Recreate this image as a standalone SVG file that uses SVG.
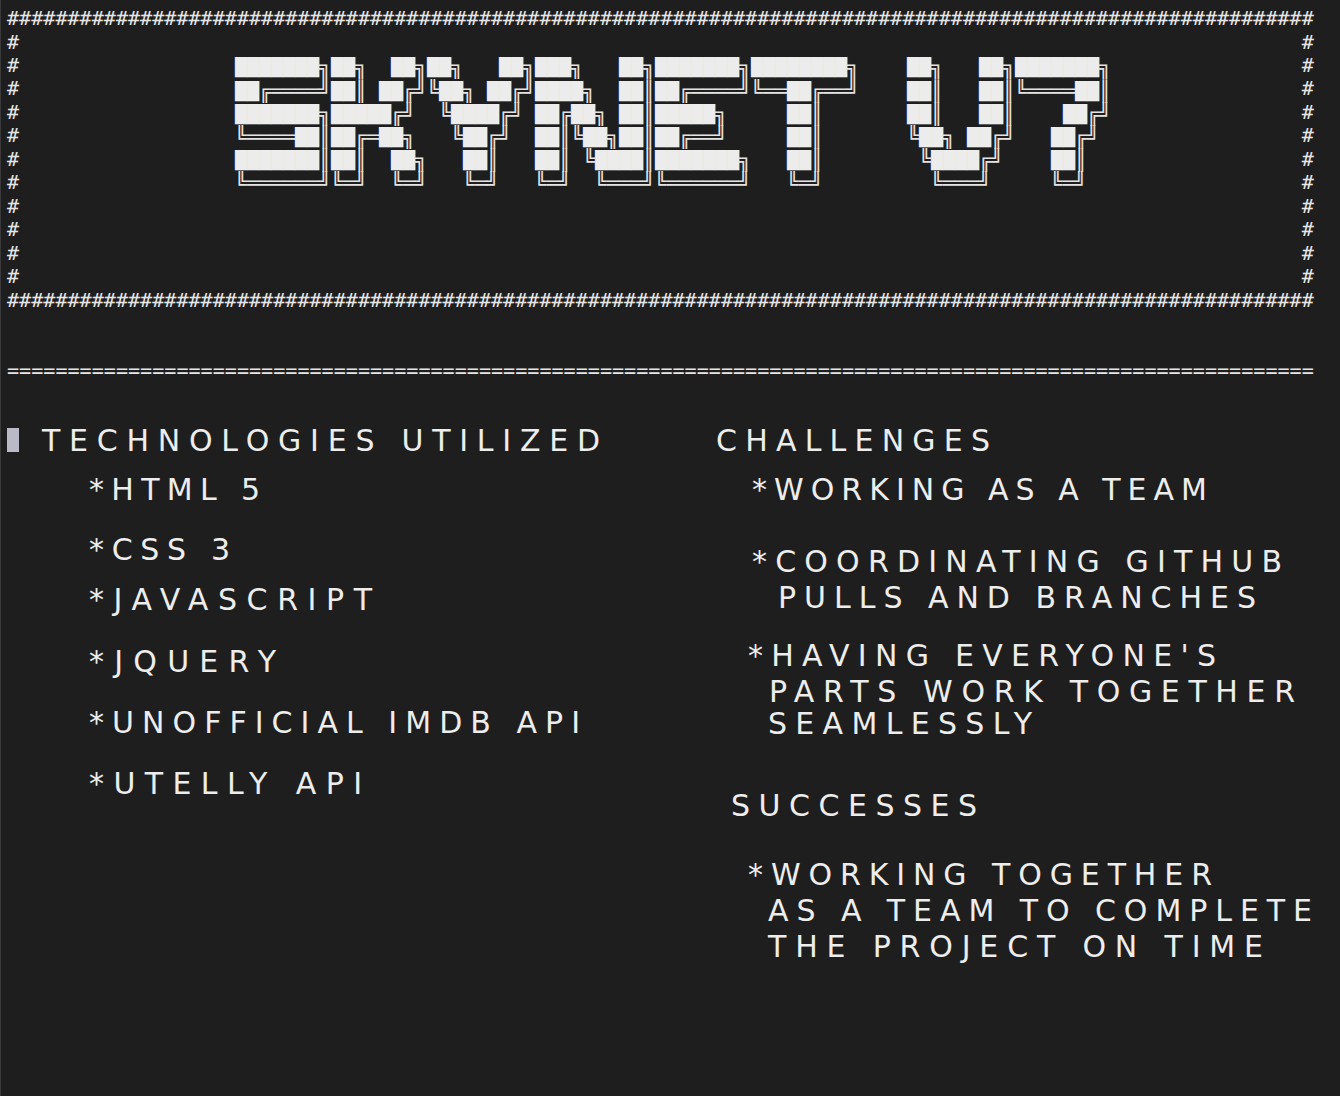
<svg xmlns="http://www.w3.org/2000/svg" width="1340" height="1096" viewBox="0 0 1340 1096">
<style>
.bg{fill:#1e1e1e}
.h{font-family:"DejaVu Sans Mono","Liberation Mono",monospace;font-size:20.1px;fill:#e6e6e6;white-space:pre}
.tt{font-family:"DejaVu Sans Mono",monospace;font-size:19.93px;fill:#e4e4e4;white-space:pre}
.k{font-size:17.18px;fill:#ececec}
.b{font-family:"DejaVu Sans","Liberation Sans",sans-serif;font-size:30px;fill:#ededed;white-space:pre}
</style>
<rect class="bg" x="0" y="0" width="1340" height="1096"/>
<rect x="0" y="0" width="1" height="1096" fill="#3a3a3a"/>

<g id="frame">
<text class="h" x="7" y="25" textLength="1306.8" lengthAdjust="spacing">############################################################################################################</text>
<text class="h" x="7" y="48.5">#</text><text class="h" x="1301.7" y="48.5">#</text>
<text class="h" x="7" y="72">#</text><text class="h" x="1301.7" y="72">#</text>
<text class="h" x="7" y="95.4">#</text><text class="h" x="1301.7" y="95.4">#</text>
<text class="h" x="7" y="118.9">#</text><text class="h" x="1301.7" y="118.9">#</text>
<text class="h" x="7" y="142.3">#</text><text class="h" x="1301.7" y="142.3">#</text>
<text class="h" x="7" y="165.8">#</text><text class="h" x="1301.7" y="165.8">#</text>
<text class="h" x="7" y="189.2">#</text><text class="h" x="1301.7" y="189.2">#</text>
<text class="h" x="7" y="212.7">#</text><text class="h" x="1301.7" y="212.7">#</text>
<text class="h" x="7" y="236.1">#</text><text class="h" x="1301.7" y="236.1">#</text>
<text class="h" x="7" y="259.6">#</text><text class="h" x="1301.7" y="259.6">#</text>
<text class="h" x="7" y="283">#</text><text class="h" x="1301.7" y="283">#</text>
<text class="h" x="7" y="306.5" textLength="1306.8" lengthAdjust="spacing">############################################################################################################</text>
</g>

<g id="title">
<text id="title-row0" class="tt" xml:space="preserve"><tspan class="k" x="235" y="73.44" textLength="84" lengthAdjust="spacingAndGlyphs">███████</tspan><tspan x="319" y="74.4">╗</tspan><tspan class="k" x="331" y="73.44" textLength="24" lengthAdjust="spacingAndGlyphs">██</tspan><tspan x="355" y="74.4">╗</tspan><tspan class="k" x="391" y="73.44" textLength="24" lengthAdjust="spacingAndGlyphs">██</tspan><tspan x="415" y="74.4">╗</tspan><tspan class="k" x="427" y="73.44" textLength="24" lengthAdjust="spacingAndGlyphs">██</tspan><tspan x="451" y="74.4">╗</tspan><tspan class="k" x="499" y="73.44" textLength="24" lengthAdjust="spacingAndGlyphs">██</tspan><tspan x="523" y="74.4">╗</tspan><tspan class="k" x="535" y="73.44" textLength="36" lengthAdjust="spacingAndGlyphs">███</tspan><tspan x="571" y="74.4">╗</tspan><tspan class="k" x="619" y="73.44" textLength="24" lengthAdjust="spacingAndGlyphs">██</tspan><tspan x="643" y="74.4">╗</tspan><tspan class="k" x="655" y="73.44" textLength="84" lengthAdjust="spacingAndGlyphs">███████</tspan><tspan x="739" y="74.4">╗</tspan><tspan class="k" x="751" y="73.44" textLength="96" lengthAdjust="spacingAndGlyphs">████████</tspan><tspan x="847" y="74.4">╗</tspan><tspan class="k" x="907" y="73.44" textLength="24" lengthAdjust="spacingAndGlyphs">██</tspan><tspan x="931" y="74.4">╗</tspan><tspan class="k" x="979" y="73.44" textLength="24" lengthAdjust="spacingAndGlyphs">██</tspan><tspan x="1003" y="74.4">╗</tspan><tspan class="k" x="1015" y="73.44" textLength="84" lengthAdjust="spacingAndGlyphs">███████</tspan><tspan x="1099" y="74.4">╗</tspan></text>
<text id="title-row1" class="tt" xml:space="preserve"><tspan class="k" x="235" y="96.64" textLength="24" lengthAdjust="spacingAndGlyphs">██</tspan><tspan x="259" y="97.6">╔════╝</tspan><tspan class="k" x="331" y="96.64" textLength="24" lengthAdjust="spacingAndGlyphs">██</tspan><tspan x="355" y="97.6">║</tspan><tspan class="k" x="379" y="96.64" textLength="24" lengthAdjust="spacingAndGlyphs">██</tspan><tspan x="403" y="97.6">╔╝╚</tspan><tspan class="k" x="439" y="96.64" textLength="24" lengthAdjust="spacingAndGlyphs">██</tspan><tspan x="463" y="97.6">╗</tspan><tspan class="k" x="487" y="96.64" textLength="24" lengthAdjust="spacingAndGlyphs">██</tspan><tspan x="511" y="97.6">╔╝</tspan><tspan class="k" x="535" y="96.64" textLength="48" lengthAdjust="spacingAndGlyphs">████</tspan><tspan x="583" y="97.6">╗</tspan><tspan class="k" x="619" y="96.64" textLength="24" lengthAdjust="spacingAndGlyphs">██</tspan><tspan x="643" y="97.6">║</tspan><tspan class="k" x="655" y="96.64" textLength="24" lengthAdjust="spacingAndGlyphs">██</tspan><tspan x="679" y="97.6">╔════╝╚══</tspan><tspan class="k" x="787" y="96.64" textLength="24" lengthAdjust="spacingAndGlyphs">██</tspan><tspan x="811" y="97.6">╔══╝</tspan><tspan class="k" x="907" y="96.64" textLength="24" lengthAdjust="spacingAndGlyphs">██</tspan><tspan x="931" y="97.6">║</tspan><tspan class="k" x="979" y="96.64" textLength="24" lengthAdjust="spacingAndGlyphs">██</tspan><tspan x="1003" y="97.6">║╚════</tspan><tspan class="k" x="1075" y="96.64" textLength="24" lengthAdjust="spacingAndGlyphs">██</tspan><tspan x="1099" y="97.6">║</tspan></text>
<text id="title-row2" class="tt" xml:space="preserve"><tspan class="k" x="235" y="119.84" textLength="84" lengthAdjust="spacingAndGlyphs">███████</tspan><tspan x="319" y="120.8">╗</tspan><tspan class="k" x="331" y="119.84" textLength="60" lengthAdjust="spacingAndGlyphs">█████</tspan><tspan x="391" y="120.8">╔╝  ╚</tspan><tspan class="k" x="451" y="119.84" textLength="48" lengthAdjust="spacingAndGlyphs">████</tspan><tspan x="499" y="120.8">╔╝</tspan><tspan class="k" x="535" y="119.84" textLength="24" lengthAdjust="spacingAndGlyphs">██</tspan><tspan x="559" y="120.8">╔</tspan><tspan class="k" x="571" y="119.84" textLength="24" lengthAdjust="spacingAndGlyphs">██</tspan><tspan x="595" y="120.8">╗</tspan><tspan class="k" x="619" y="119.84" textLength="24" lengthAdjust="spacingAndGlyphs">██</tspan><tspan x="643" y="120.8">║</tspan><tspan class="k" x="655" y="119.84" textLength="60" lengthAdjust="spacingAndGlyphs">█████</tspan><tspan x="715" y="120.8">╗</tspan><tspan class="k" x="787" y="119.84" textLength="24" lengthAdjust="spacingAndGlyphs">██</tspan><tspan x="811" y="120.8">║</tspan><tspan class="k" x="907" y="119.84" textLength="24" lengthAdjust="spacingAndGlyphs">██</tspan><tspan x="931" y="120.8">║</tspan><tspan class="k" x="979" y="119.84" textLength="24" lengthAdjust="spacingAndGlyphs">██</tspan><tspan x="1003" y="120.8">║</tspan><tspan class="k" x="1063" y="119.84" textLength="24" lengthAdjust="spacingAndGlyphs">██</tspan><tspan x="1087" y="120.8">╔╝</tspan></text>
<text id="title-row3" class="tt" xml:space="preserve"><tspan x="235" y="144">╚════</tspan><tspan class="k" x="295" y="143.04" textLength="24" lengthAdjust="spacingAndGlyphs">██</tspan><tspan x="319" y="144">║</tspan><tspan class="k" x="331" y="143.04" textLength="24" lengthAdjust="spacingAndGlyphs">██</tspan><tspan x="355" y="144">╔═</tspan><tspan class="k" x="379" y="143.04" textLength="24" lengthAdjust="spacingAndGlyphs">██</tspan><tspan x="403" y="144">╗   ╚</tspan><tspan class="k" x="463" y="143.04" textLength="24" lengthAdjust="spacingAndGlyphs">██</tspan><tspan x="487" y="144">╔╝</tspan><tspan class="k" x="535" y="143.04" textLength="24" lengthAdjust="spacingAndGlyphs">██</tspan><tspan x="559" y="144">║╚</tspan><tspan class="k" x="583" y="143.04" textLength="24" lengthAdjust="spacingAndGlyphs">██</tspan><tspan x="607" y="144">╗</tspan><tspan class="k" x="619" y="143.04" textLength="24" lengthAdjust="spacingAndGlyphs">██</tspan><tspan x="643" y="144">║</tspan><tspan class="k" x="655" y="143.04" textLength="24" lengthAdjust="spacingAndGlyphs">██</tspan><tspan x="679" y="144">╔══╝</tspan><tspan class="k" x="787" y="143.04" textLength="24" lengthAdjust="spacingAndGlyphs">██</tspan><tspan x="811" y="144">║</tspan><tspan x="907" y="144">╚</tspan><tspan class="k" x="919" y="143.04" textLength="24" lengthAdjust="spacingAndGlyphs">██</tspan><tspan x="943" y="144">╗</tspan><tspan class="k" x="967" y="143.04" textLength="24" lengthAdjust="spacingAndGlyphs">██</tspan><tspan x="991" y="144">╔╝</tspan><tspan class="k" x="1051" y="143.04" textLength="24" lengthAdjust="spacingAndGlyphs">██</tspan><tspan x="1075" y="144">╔╝</tspan></text>
<text id="title-row4" class="tt" xml:space="preserve"><tspan class="k" x="235" y="166.24" textLength="84" lengthAdjust="spacingAndGlyphs">███████</tspan><tspan x="319" y="167.2">║</tspan><tspan class="k" x="331" y="166.24" textLength="24" lengthAdjust="spacingAndGlyphs">██</tspan><tspan x="355" y="167.2">║</tspan><tspan class="k" x="391" y="166.24" textLength="24" lengthAdjust="spacingAndGlyphs">██</tspan><tspan x="415" y="167.2">╗</tspan><tspan class="k" x="463" y="166.24" textLength="24" lengthAdjust="spacingAndGlyphs">██</tspan><tspan x="487" y="167.2">║</tspan><tspan class="k" x="535" y="166.24" textLength="24" lengthAdjust="spacingAndGlyphs">██</tspan><tspan x="559" y="167.2">║ ╚</tspan><tspan class="k" x="595" y="166.24" textLength="48" lengthAdjust="spacingAndGlyphs">████</tspan><tspan x="643" y="167.2">║</tspan><tspan class="k" x="655" y="166.24" textLength="84" lengthAdjust="spacingAndGlyphs">███████</tspan><tspan x="739" y="167.2">╗</tspan><tspan class="k" x="787" y="166.24" textLength="24" lengthAdjust="spacingAndGlyphs">██</tspan><tspan x="811" y="167.2">║</tspan><tspan x="919" y="167.2">╚</tspan><tspan class="k" x="931" y="166.24" textLength="48" lengthAdjust="spacingAndGlyphs">████</tspan><tspan x="979" y="167.2">╔╝</tspan><tspan class="k" x="1051" y="166.24" textLength="24" lengthAdjust="spacingAndGlyphs">██</tspan><tspan x="1075" y="167.2">║</tspan></text>
<text id="title-row5" class="tt" xml:space="preserve" x="235" y="190.4">╚══════╝╚═╝  ╚═╝   ╚═╝   ╚═╝  ╚═══╝╚══════╝   ╚═╝         ╚═══╝     ╚═╝</text>
</g>

<g id="divider">
<text class="h" x="7" y="376.5" textLength="1306.8" lengthAdjust="spacing">============================================================================================================</text>
</g>

<g id="technologies">
<rect x="7" y="428" width="12" height="24" fill="#b9b9c8"/>
<text class="b" x="42" y="451" textLength="558" lengthAdjust="spacing">TECHNOLOGIES UTILIZED</text>
<text class="b" x="89" y="500" textLength="171" lengthAdjust="spacing">*HTML 5</text>
<text class="b" x="89" y="560" textLength="141" lengthAdjust="spacing">*CSS 3</text>
<text class="b" x="89" y="610" textLength="283" lengthAdjust="spacing">*JAVASCRIPT</text>
<text class="b" x="89" y="672" textLength="187" lengthAdjust="spacing">*JQUERY</text>
<text class="b" x="89" y="733" textLength="491" lengthAdjust="spacing">*UNOFFICIAL IMDB API</text>
<text class="b" x="89" y="794" textLength="273" lengthAdjust="spacing">*UTELLY API</text>
</g>

<g id="challenges">
<text class="b" x="716" y="451" textLength="274" lengthAdjust="spacing">CHALLENGES</text>
<text class="b" x="752" y="500" textLength="455" lengthAdjust="spacing">*WORKING AS A TEAM</text>
<text class="b" x="752" y="572" textLength="530" lengthAdjust="spacing">*COORDINATING GITHUB</text>
<text class="b" x="778" y="608" textLength="478" lengthAdjust="spacing">PULLS AND BRANCHES</text>
<text class="b" x="748" y="666" textLength="468" lengthAdjust="spacing">*HAVING EVERYONE'S</text>
<text class="b" x="769" y="702" textLength="526" lengthAdjust="spacing">PARTS WORK TOGETHER</text>
<text class="b" x="768" y="734" textLength="264" lengthAdjust="spacing">SEAMLESSLY</text>
</g>

<g id="successes">
<text class="b" x="731" y="816" textLength="246" lengthAdjust="spacing">SUCCESSES</text>
<text class="b" x="748" y="885" textLength="464" lengthAdjust="spacing">*WORKING TOGETHER</text>
<text class="b" x="768" y="921" textLength="544" lengthAdjust="spacing">AS A TEAM TO COMPLETE</text>
<text class="b" x="768" y="957" textLength="495" lengthAdjust="spacing">THE PROJECT ON TIME</text>
</g>
</svg>
